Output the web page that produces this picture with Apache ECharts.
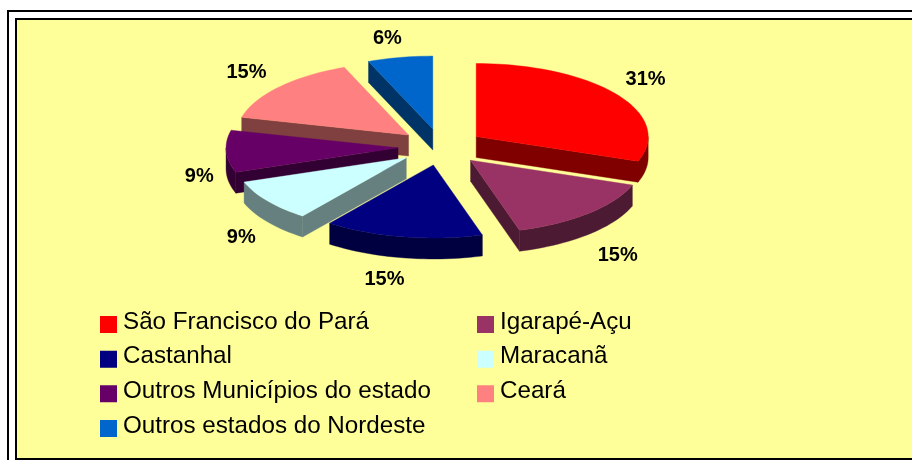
<!DOCTYPE html>
<html><head><meta charset="utf-8">
<style>html,body{margin:0;padding:0;background:#fff}#c{width:912px;height:460px}</style>
<script src="https://cdn.jsdelivr.net/npm/echarts@6/dist/echarts.min.js"></script>
</head><body><div id="c"></div>
<script>
const categories = ['São Francisco do Pará','Igarapé-Açu','Castanhal','Maracanã','Outros Municípios do estado','Ceará','Outros estados do Nordeste'];
const values = [30.5,14.9,14.9,9.3,9.3,15,6.1];
const topColors = ['#FF0000','#993366','#000080','#CCFFFF','#660066','#FF8080','#0066CC'];
const sideColors = ['#800000','#4D1A33','#000040','#668080','#330033','#804040','#003366'];
const drawOrder = [5,6,4,3,2,1,0]; // painter's order per slice, higher is nearer
const labelNudge = [[0,4],[5,4],[-12,-5],[2,3],[8,10],[-6,8],[-6,14]];

const P = {cx:441,cy:147,rx:172,ry:73,depth:21,explode:0.25,lrx:250,lry:125,ldrop:14};
const total = values.reduce((a,b)=>a+b,0);
const rad = d => d*Math.PI/180;
const angles = []; let run = 0;
values.forEach(v=>{ angles.push([run/total*360,(run+v)/total*360]); run+=v; });

function arcPts(ox,oy,a0,a1,dy){
  const n = Math.max(2,Math.ceil((a1-a0)/2)), pts=[];
  for(let k=0;k<=n;k++){ const a=rad(a0+(a1-a0)*k/n);
    pts.push([ox+P.rx*Math.sin(a),oy-P.ry*Math.cos(a)+dy]); }
  return pts;
}
function poly(points,fill){ return {type:'polygon',shape:{points},style:{fill,stroke:fill,lineWidth:0.4}}; }

function renderSlice(i){
  return function(params,api){
    const [a0,a1]=angles[i], mid=(a0+a1)/2, m=rad(mid);
    const ox=P.cx+P.explode*P.rx*Math.sin(m), oy=P.cy-P.explode*P.ry*Math.cos(m);
    const d=P.depth, kids=[], side=sideColors[i];
    const edge=a=>[ox+P.rx*Math.sin(rad(a)),oy-P.ry*Math.cos(rad(a))];
    if(Math.sin(rad(a0))<0){const e=edge(a0);kids.push(poly([[ox,oy],e,[e[0],e[1]+d],[ox,oy+d]],side));}
    if(Math.sin(rad(a1))>0){const e=edge(a1);kids.push(poly([[ox,oy],e,[e[0],e[1]+d],[ox,oy+d]],side));}
    const s=Math.max(a0,90), t=Math.min(a1,270);
    if(t>s){kids.push(poly(arcPts(ox,oy,s,t,0).concat(arcPts(ox,oy,s,t,d).reverse()),side));}
    kids.push(poly([[ox,oy]].concat(arcPts(ox,oy,a0,a1,0)),topColors[i]));
    kids.push({type:'text',style:{
      text:Math.round(api.value(0))+'%',
      x:P.cx+P.lrx*Math.sin(m)+labelNudge[i][0],
      y:P.cy-P.lry*Math.cos(m)+(Math.cos(m)<0?P.ldrop:0)+labelNudge[i][1],
      fill:'#000',font:'bold 20px "Liberation Sans",Arial,sans-serif',align:'center',verticalAlign:'middle'}});
    return {type:'group',children:kids};
  };
}

// square sits 5px low inside a 17x22 icon box, so it hangs below the text's middle
const legendIcon = 'path://M0,0L17,0L17,0L0,0ZM0,5L17,5L17,22L0,22Z';
const legendBase = {orient:'vertical',icon:legendIcon,itemWidth:17,itemHeight:22,itemGap:10.67,padding:0,height:200,selectedMode:false,
  textStyle:{fontFamily:'"Liberation Sans",Arial,sans-serif',fontSize:24.2,color:'#000',padding:[0,0,0,1]}};

const chart = echarts.init(document.getElementById('c'),null,{renderer:'canvas'});
chart.setOption({
  animation:false,
  backgroundColor:'#fff',
  graphic:[
    {type:'rect',z:0,silent:true,shape:{x:8,y:11,width:1000,height:1000},style:{fill:'none',stroke:'#000',lineWidth:2}},
    {type:'rect',z:0,silent:true,shape:{x:16,y:19,width:1000,height:440},style:{fill:'#FFFF99',stroke:'#000',lineWidth:2}}
  ],
  legend:[
    Object.assign({},legendBase,{left:100,top:310,data:[0,2,4,6].map(i=>categories[i])}),
    Object.assign({},legendBase,{left:477,top:310,data:[1,3,5].map(i=>categories[i])})
  ],
  series:categories.map((name,i)=>({
    type:'custom',name,coordinateSystem:'none',silent:true,z:2+drawOrder[i],
    itemStyle:{color:topColors[i]},
    data:[[values[i]]],
    renderItem:renderSlice(i)
  }))
});
</script></body></html>
